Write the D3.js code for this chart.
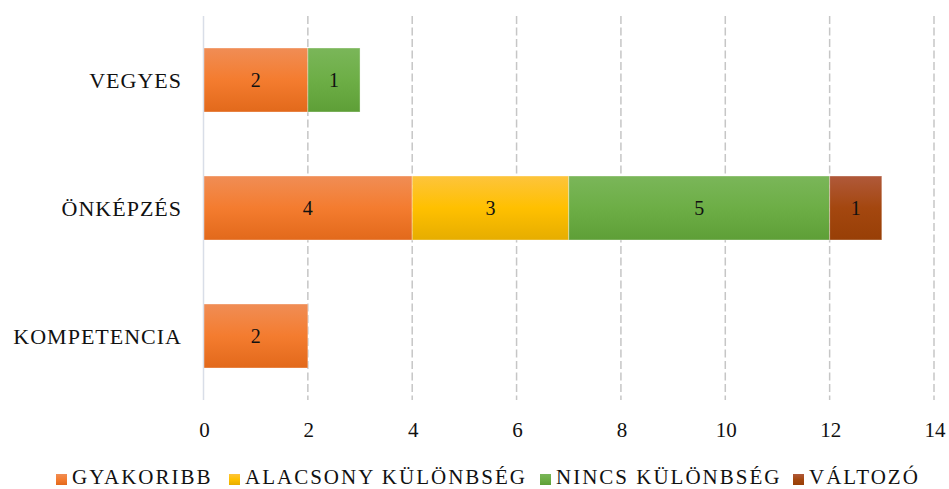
<!DOCTYPE html>
<html>
<head>
<meta charset="utf-8">
<script src="https://cdn.jsdelivr.net/npm/d3@7"></script>
<style>
  html, body { margin: 0; padding: 0; background: #fff; }
  svg text { font-family: "Liberation Serif", "DejaVu Serif", serif; }
</style>
</head>
<body>
<svg id="chart" width="949" height="489"></svg>
<script>
// Categories, top to bottom
const categories = ["VEGYES", "ÖNKÉPZÉS", "KOMPETENCIA"];
// Series names (stack order, left to right)
const seriesNames = ["GYAKORIBB", "ALACSONY KÜLÖNBSÉG", "NINCS KÜLÖNBSÉG", "VÁLTOZÓ"];
// Values per series, aligned with categories
const gyakoribb = [2, 4, 2];
const alacsony = [0, 3, 0];
const nincs = [1, 5, 0];
const valtozo = [0, 1, 0];
// Axis ticks
const xTicks = [0, 2, 4, 6, 8, 10, 12, 14];

const seriesValues = [gyakoribb, alacsony, nincs, valtozo];
const seriesColors = [
  { top: "#F08D55", mid: "#F47C2F", bot: "#E2691B" },
  { top: "#FDC43C", mid: "#FFC000", bot: "#E6AD00" },
  { top: "#7AB659", mid: "#6DAE46", bot: "#5E9F37" },
  { top: "#B0593A", mid: "#A4470F", bot: "#983F06" }
];

const svg = d3.select("#chart");
const defs = svg.append("defs");
seriesColors.forEach((c, i) => {
  const g = defs.append("linearGradient")
    .attr("id", "grad" + i).attr("x1", 0).attr("y1", 0).attr("x2", 0).attr("y2", 1);
  g.append("stop").attr("offset", "0%").attr("stop-color", c.top);
  g.append("stop").attr("offset", "50%").attr("stop-color", c.mid);
  g.append("stop").attr("offset", "100%").attr("stop-color", c.bot);
});

const x = d3.scaleLinear().domain([0, 14]).range([203.5, 934]);
const y = d3.scaleBand().domain(categories).range([16, 400])
  .paddingInner(0.5).paddingOuter(0.25);

// Vertical gridlines
svg.append("g").selectAll("line")
  .data(xTicks.filter(d => d !== 0))
  .join("line")
  .attr("x1", d => x(d)).attr("x2", d => x(d))
  .attr("y1", 16).attr("y2", 400)
  .attr("stroke", "#C6C6C6").attr("stroke-width", 1.5)
  .attr("stroke-dasharray", "8,3.5");

// Stacked data
const rows = categories.map((c, i) => {
  const r = { cat: c };
  seriesNames.forEach((s, k) => r[s] = seriesValues[k][i]);
  return r;
});
const stacked = d3.stack().keys(seriesNames)(rows);

const layers = svg.append("g").selectAll("g")
  .data(stacked).join("g")
  .attr("fill", (d, i) => `url(#grad${i})`);

layers.selectAll("rect")
  .data(d => d.filter(p => p[1] - p[0] > 0))
  .join("rect")
  .attr("x", d => x(d[0]))
  .attr("y", d => y(d.data.cat))
  .attr("width", d => x(d[1]) - x(d[0]))
  .attr("height", y.bandwidth())
  .attr("stroke", "rgba(255,255,255,0.35)")
  .attr("stroke-width", 1);

// Value labels
layers.selectAll("text")
  .data(d => d.filter(p => p[1] - p[0] > 0))
  .join("text")
  .attr("x", d => (x(d[0]) + x(d[1])) / 2)
  .attr("y", d => y(d.data.cat) + y.bandwidth() / 2)
  .attr("dy", "0.35em")
  .attr("text-anchor", "middle")
  .attr("fill", "#111")
  .attr("font-size", 20)
  .text(d => d[1] - d[0]);

// Zero axis line
svg.append("line")
  .attr("x1", x(0)).attr("x2", x(0))
  .attr("y1", 16).attr("y2", 400)
  .attr("stroke", "#D9DEE8").attr("stroke-width", 1.5);

// Category labels
svg.append("g").selectAll("text")
  .data(categories).join("text")
  .attr("x", 182)
  .attr("y", d => y(d) + y.bandwidth() / 2)
  .attr("dy", "0.35em")
  .attr("text-anchor", "end")
  .attr("font-size", 22)
  .attr("letter-spacing", 1)
  .attr("fill", "#111")
  .text(d => d);

// X tick labels
svg.append("g").selectAll("text")
  .data(xTicks).join("text")
  .attr("x", d => x(d) + 1)
  .attr("y", 430)
  .attr("dy", "0.35em")
  .attr("text-anchor", "middle")
  .attr("font-size", 21)
  .attr("fill", "#111")
  .text(d => d);

// Legend
const legendX = [56, 229, 540, 793];
const legend = svg.append("g").selectAll("g")
  .data(seriesNames).join("g")
  .attr("transform", (d, i) => `translate(${legendX[i]},474)`);
legend.append("rect")
  .attr("width", 11).attr("height", 11)
  .attr("fill", (d, i) => `url(#grad${i})`);
legend.append("text")
  .attr("x", 16).attr("y", 2.6).attr("dy", "0.35em")
  .attr("font-size", 21)
  .attr("letter-spacing", 2)
  .attr("fill", "#111")
  .text(d => d);
</script>
</body>
</html>
